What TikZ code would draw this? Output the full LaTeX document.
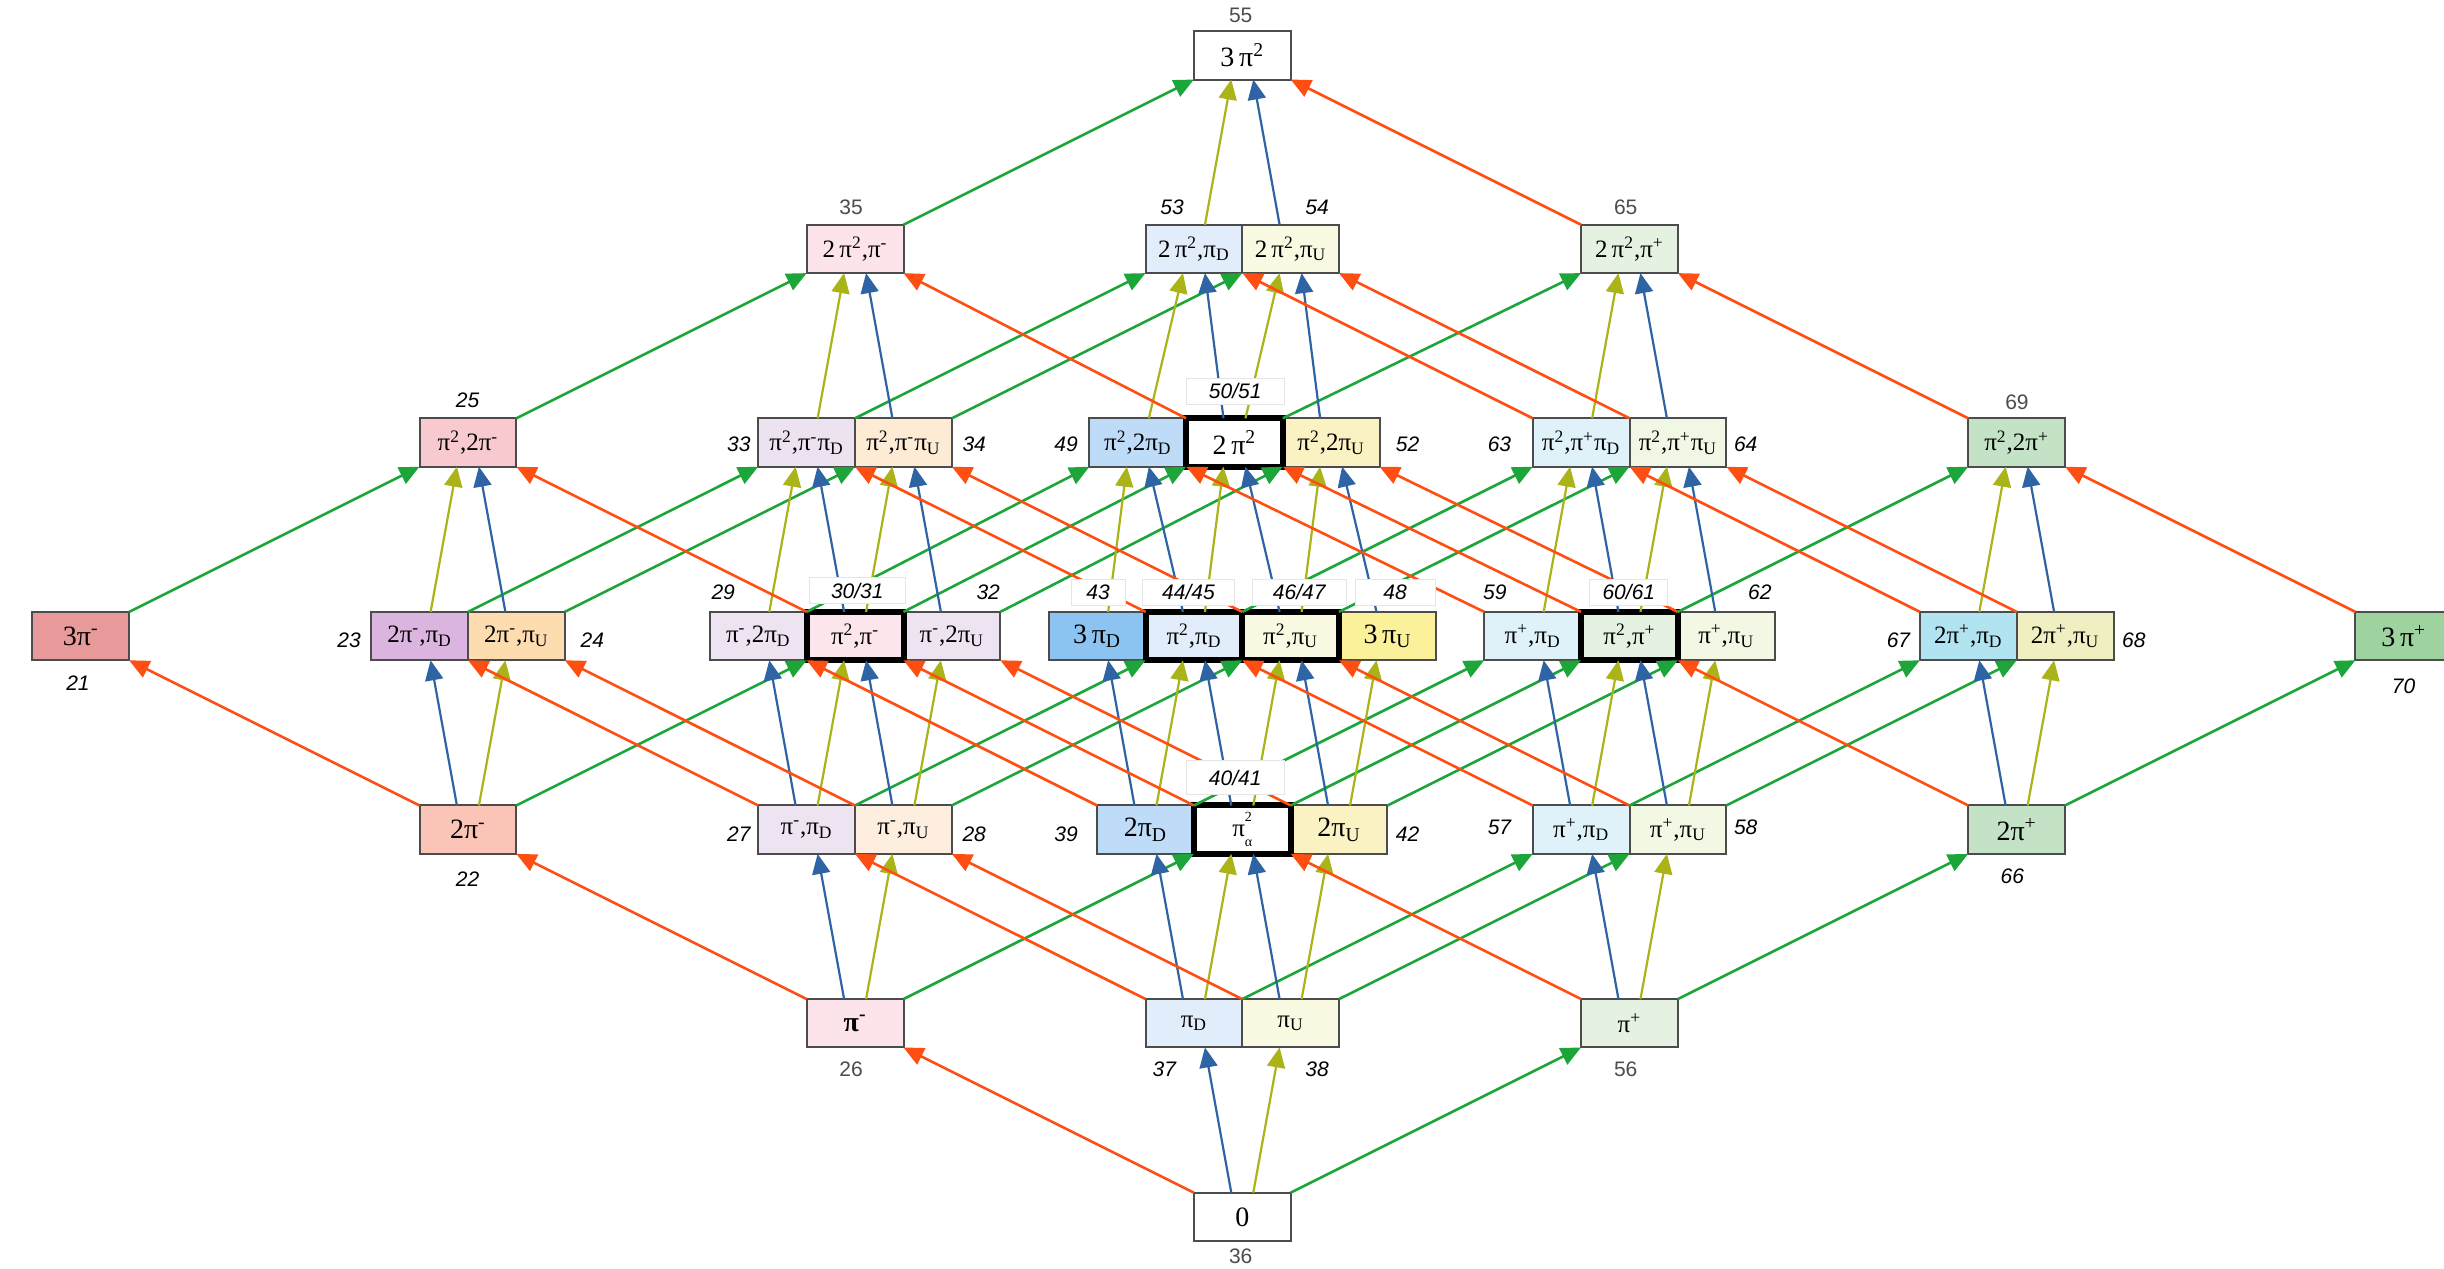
\documentclass[tikz,border=0pt]{standalone}
\usepackage{fontspec}
\setmainfont{Liberation Serif}
\newfontfamily\numfam{Liberation Sans}
\usetikzlibrary{arrows.meta}
\definecolor{cR}{RGB}{255,78,18}
\definecolor{cG}{RGB}{28,166,58}
\definecolor{cB}{RGB}{46,100,164}
\definecolor{cO}{RGB}{170,180,24}
\definecolor{f35}{HTML}{FCE4EA}
\definecolor{f53}{HTML}{E1EDFA}
\definecolor{f54}{HTML}{FAFAE3}
\definecolor{f65}{HTML}{E5F2E2}
\definecolor{f25}{HTML}{F9C9D0}
\definecolor{f33}{HTML}{ECE2F0}
\definecolor{f34}{HTML}{FDEBD6}
\definecolor{f49}{HTML}{BEDCF7}
\definecolor{f52}{HTML}{FBF2C3}
\definecolor{f63}{HTML}{E0F2F9}
\definecolor{f64}{HTML}{F0F7E4}
\definecolor{f69}{HTML}{C4E2C5}
\definecolor{f21}{HTML}{E89A9B}
\definecolor{f23}{HTML}{DCB4E0}
\definecolor{f24}{HTML}{FDDDB0}
\definecolor{f29}{HTML}{EDE3F1}
\definecolor{f30}{HTML}{FCE6EB}
\definecolor{f43}{HTML}{8CC3F1}
\definecolor{f48}{HTML}{FBF19B}
\definecolor{f62}{HTML}{F2F8E3}
\definecolor{f67}{HTML}{B2E3F0}
\definecolor{f68}{HTML}{F0EFC2}
\definecolor{f70}{HTML}{9ED29F}
\definecolor{f22}{HTML}{FAC4B6}
\definecolor{f28}{HTML}{FDEEDF}
\newcommand\pim{π\textsuperscript{-}}
\newcommand\pip{π\textsuperscript{+}}
\newcommand\pisq{π\textsuperscript{2}}
\newcommand\piDD{π\textsubscript{D}}
\newcommand\piUU{π\textsubscript{U}}
\newcommand\edR[2]{\draw[er] (#1.north west) -- (#2.south east);}
\newcommand\edG[2]{\draw[eg] (#1.north east) -- (#2.south west);}
\newcommand\edB[2]{\draw[eb] ([xshift=-5.5pt]#1.north) -- ([xshift=5.5pt]#2.south);}
\newcommand\edO[2]{\draw[eo] ([xshift=5.5pt]#1.north) -- ([xshift=-5.5pt]#2.south);}
\begin{document}
\begin{tikzpicture}[x=0.77935pt,y=-0.77935pt,
  box/.style={draw=black!70, line width=1pt, minimum width=48.4pt, minimum height=24.2pt, inner sep=0pt, outer sep=0pt, font=\fontsize{12.5}{14}\selectfont},
  big/.style={font=\fontsize{14}{16}\selectfont},
  thickbox/.style={box, draw=black, line width=3pt},
  tip/.style={-{Triangle[length=10pt,width=9pt]}},
  er/.style={tip, draw=cR, fill=cR, line width=1.3pt},
  eg/.style={tip, draw=cG, fill=cG, line width=1.3pt},
  eb/.style={tip, draw=cB, fill=cB, line width=1.1pt},
  eo/.style={tip, draw=cO, fill=cO, line width=1.1pt},
  num/.style={font=\numfam\itshape\fontsize{10.5}{12}\selectfont, inner sep=1pt},
  numu/.style={font=\numfam\fontsize{10.5}{12}\selectfont, text=black!70, inner sep=1pt},
  tag/.style={num, fill=white, draw=black!10, line width=0.4pt, minimum height=13pt}
]
\useasboundingbox (0,0) rectangle (1568,814);
\fill[white] (0,0) rectangle (1568,814);
% row 0
\node[box, big, fill=white] (n55) at (797,35.5) {3\,\pisq};
% row 1
\node[box, fill=f35] (n35) at (548.6,159.7) {2\,\pisq,\pim};
\node[box, fill=f53] (n53) at (766,159.7) {2\,\pisq,\piDD};
\node[box, fill=f54] (n54) at (828,159.7) {2\,\pisq,\piUU};
\node[box, fill=f65] (n65) at (1045.4,159.7) {2\,\pisq,\pip};
% row 2
\node[box, fill=f25] (n25) at (300.2,283.9) {\pisq,2\pim};
\node[box, fill=f33] (n33) at (517.5,283.9) {\pisq,\pim\piDD};
\node[box, fill=f34] (n34) at (579.6,283.9) {\pisq,\pim\piUU};
\node[box, fill=f49] (n49) at (730,283.9) {\pisq,2\piDD};
\node[box, fill=f52] (n52) at (854,283.9) {\pisq,2\piUU};
\node[box, fill=f63] (n63) at (1014.4,283.9) {\pisq,\pip\piDD};
\node[box, fill=f64] (n64) at (1076.5,283.9) {\pisq,\pip\piUU};
\node[box, fill=f69] (n69) at (1293.8,283.9) {\pisq,2\pip};
\node[thickbox, big, fill=white] (n50) at (792,283.9) {2\,\pisq};
% row 3
\node[box, big, fill=f21] (n21) at (51.8,408.1) {3\pim};
\node[box, fill=f23] (n23) at (269.2,408.1) {2\pim,\piDD};
\node[box, fill=f24] (n24) at (331.3,408.1) {2\pim,\piUU};
\node[box, fill=f29] (n29) at (486.5,408.1) {\pim,2\piDD};
\node[box, fill=f29] (n32) at (610.7,408.1) {\pim,2\piUU};
\node[box, big, fill=f43] (n43) at (703.9,408.1) {3\,\piDD};
\node[box, big, fill=f48] (n48) at (890.2,408.1) {3\,\piUU};
\node[box, fill=f63] (n59) at (983.3,408.1) {\pip,\piDD};
\node[box, fill=f62] (n62) at (1107.5,408.1) {\pip,\piUU};
\node[box, fill=f67] (n67) at (1262.8,408.1) {2\pip,\piDD};
\node[box, fill=f68] (n68) at (1324.9,408.1) {2\pip,\piUU};
\node[box, big, fill=f70] (n70) at (1542.2,408.1) {3\,\pip};
\node[thickbox, fill=f30] (n30) at (548.6,408.1) {\pisq,\pim};
\node[thickbox, fill=f53] (n44) at (766,408.1) {\pisq,\piDD};
\node[thickbox, fill=f54] (n46) at (828,408.1) {\pisq,\piUU};
\node[thickbox, fill=f65] (n60) at (1045.4,408.1) {\pisq,\pip};
% row 4
\node[box, big, fill=f22] (n22) at (300.2,532.3) {2\pim};
\node[box, fill=f29] (n27) at (517.5,532.3) {\pim,\piDD};
\node[box, fill=f28] (n28) at (579.6,532.3) {\pim,\piUU};
\node[box, big, fill=f49] (n39) at (734.9,532.3) {2\piDD};
\node[box, big, fill=f52] (n42) at (859.1,532.3) {2\piUU};
\node[box, fill=f63] (n57) at (1014.4,532.3) {\pip,\piDD};
\node[box, fill=f62] (n58) at (1076.5,532.3) {\pip,\piUU};
\node[box, big, fill=f69] (n66) at (1293.8,532.3) {2\pip};
\node[thickbox, fill=white] (n40) at (797,532.3) {π\rlap{\raisebox{0.6em}{\fontsize{7}{8}\selectfont 2}}\raisebox{-0.4em}{\fontsize{7}{8}\selectfont α}};
% row 5
\node[box, big, fill=f35] (n26) at (548.6,656.5) {\bfseries\pim};
\node[box, fill=f53] (n37) at (766,656.5) {\piDD};
\node[box, fill=f54] (n38) at (828,656.5) {\piUU};
\node[box, fill=f65] (n56) at (1045.4,656.5) {\pip};
% row 6
\node[box, big, fill=white] (n36) at (797,780.7) {0};
% edges row 6 -> 5
\edR{n36}{n26} \edB{n36}{n37} \edO{n36}{n38} \edG{n36}{n56}
% row 5 -> 4
\edR{n26}{n22} \edG{n26}{n40} \edB{n26}{n27} \edO{n26}{n28}
\edR{n37}{n27} \edG{n37}{n57} \edB{n37}{n39} \edO{n37}{n40}
\edR{n38}{n28} \edG{n38}{n58} \edB{n38}{n40} \edO{n38}{n42}
\edR{n56}{n40} \edG{n56}{n66} \edB{n56}{n57} \edO{n56}{n58}
% row 4 -> 3
\edR{n22}{n21} \edG{n22}{n30} \edB{n22}{n23} \edO{n22}{n24}
\edR{n27}{n23} \edG{n27}{n44} \edB{n27}{n29} \edO{n27}{n30}
\edR{n28}{n24} \edG{n28}{n46} \edB{n28}{n30} \edO{n28}{n32}
\edR{n39}{n29} \edG{n39}{n59} \edB{n39}{n43} \edO{n39}{n44}
\edR{n40}{n30} \edG{n40}{n60} \edB{n40}{n44} \edO{n40}{n46}
\edR{n42}{n32} \edG{n42}{n62} \edB{n42}{n46} \edO{n42}{n48}
\edR{n57}{n44} \edG{n57}{n67} \edB{n57}{n59} \edO{n57}{n60}
\edR{n58}{n46} \edG{n58}{n68} \edB{n58}{n60} \edO{n58}{n62}
\edR{n66}{n60} \edG{n66}{n70} \edB{n66}{n67} \edO{n66}{n68}
% row 3 -> 2
\edG{n21}{n25}
\edG{n23}{n33} \edO{n23}{n25}
\edG{n24}{n34} \edB{n24}{n25}
\edG{n29}{n49} \edO{n29}{n33}
\edR{n30}{n25} \edG{n30}{n50} \edB{n30}{n33} \edO{n30}{n34}
\edG{n32}{n52} \edB{n32}{n34}
\edO{n43}{n49}
\edR{n44}{n33} \edG{n44}{n63} \edB{n44}{n49} \edO{n44}{n50}
\edR{n46}{n34} \edG{n46}{n64} \edB{n46}{n50} \edO{n46}{n52}
\edB{n48}{n52}
\edR{n59}{n49} \edO{n59}{n63}
\edR{n60}{n50} \edG{n60}{n69} \edB{n60}{n63} \edO{n60}{n64}
\edR{n62}{n52} \edB{n62}{n64}
\edR{n67}{n63} \edO{n67}{n69}
\edR{n68}{n64} \edB{n68}{n69}
\edR{n70}{n69}
% row 2 -> 1
\edG{n25}{n35}
\edG{n33}{n53} \edO{n33}{n35}
\edG{n34}{n54} \edB{n34}{n35}
\edO{n49}{n53}
\edR{n50}{n35} \edG{n50}{n65} \edB{n50}{n53} \edO{n50}{n54}
\edB{n52}{n54}
\edR{n63}{n53} \edO{n63}{n65}
\edR{n64}{n54} \edB{n64}{n65}
\edR{n69}{n65}
% row 1 -> 0
\edG{n35}{n55} \edO{n53}{n55} \edB{n54}{n55} \edR{n65}{n55}
% labels
\node[numu] (l55) at (796,10) {55};
\node[numu] (l35) at (546,133) {35};
\node[num] (l53) at (752,133) {53};
\node[num] (l54) at (845,133) {54};
\node[numu] (l65) at (1043,133) {65};
\node[num] (l25) at (300,257) {25};
\node[num] (l33) at (474,285) {33};
\node[num] (l34) at (625,285) {34};
\node[num] (l49) at (684,285) {49};
\node[tag, minimum width=49pt] (l50) at (792.5,251) {50/51};
\node[num] (l52) at (903,285) {52};
\node[num] (l63) at (962,285) {63};
\node[num] (l64) at (1120,285) {64};
\node[numu] (l69) at (1294,258) {69};
\node[num] (l21) at (50,438) {21};
\node[num] (l23) at (224,411) {23};
\node[num] (l24) at (380,411) {24};
\node[num] (l29) at (464,380) {29};
\node[tag, minimum width=48pt] (l30) at (550,379) {30/31};
\node[num] (l32) at (634,380) {32};
\node[tag, minimum width=27pt] (l43) at (704.5,380) {43};
\node[tag, minimum width=46pt] (l44) at (762.5,380) {44/45};
\node[tag, minimum width=47pt] (l46) at (833.5,380) {46/47};
\node[tag, minimum width=40pt] (l48) at (895,380) {48};
\node[num] (l59) at (959,380) {59};
\node[tag, minimum width=39pt] (l60) at (1045,380) {60/61};
\node[num] (l62) at (1129,380) {62};
\node[num] (l67) at (1218,411) {67};
\node[num] (l68) at (1369,411) {68};
\node[num] (l70) at (1542,440) {70};
\node[num] (l22) at (300,564) {22};
\node[num] (l27) at (474,535) {27};
\node[num] (l28) at (625,535) {28};
\node[num] (l39) at (684,535) {39};
\node[tag, minimum width=49pt, minimum height=17pt] (l40) at (792.5,499) {40/41};
\node[num] (l42) at (903,535) {42};
\node[num] (l57) at (962,531) {57};
\node[num] (l58) at (1120,531) {58};
\node[num] (l66) at (1291,562) {66};
\node[numu] (l26) at (546,686) {26};
\node[num] (l37) at (747,686) {37};
\node[num] (l38) at (845,686) {38};
\node[numu] (l56) at (1043,686) {56};
\node[numu] (l36) at (796,806) {36};
\end{tikzpicture}
\end{document}
